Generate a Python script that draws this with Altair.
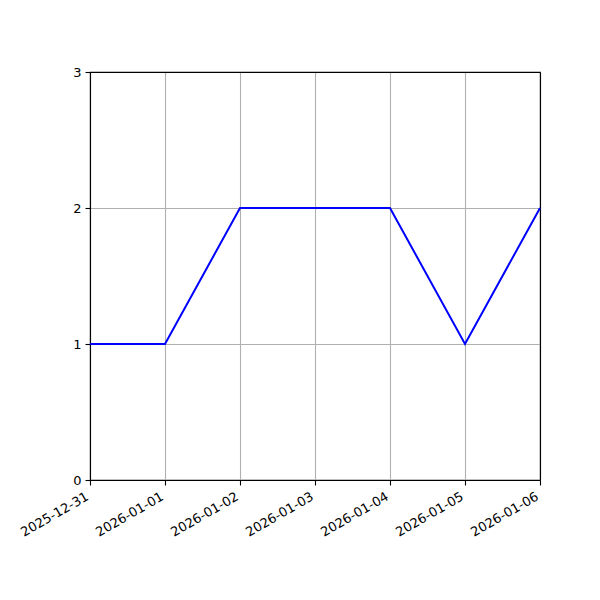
import altair as alt
import pandas as pd

dates = ["2025-12-31", "2026-01-01", "2026-01-02", "2026-01-03",
         "2026-01-04", "2026-01-05", "2026-01-06"]
values = [1, 1, 2, 2, 2, 1, 2]

df = pd.DataFrame({"date": dates, "value": values})

font = "DejaVu Sans"

xscale = alt.Scale(type="point", padding=0)
yscale = alt.Scale(domain=[0, 3], nice=False, zero=True)

line = alt.Chart(df).mark_line(color="#0000ff", strokeWidth=2).encode(
    x=alt.X("date:O", sort=dates, scale=xscale,
            axis=alt.Axis(title=None, labelAngle=330, labelAlign="right",
                          labelBaseline="top", labelFont=font, labelFontSize=13,
                          labelColor="black", tickColor="black", tickSize=5,
                          domainColor="black", labelPadding=5, labelOffset=-6,
                          grid=True, gridColor="#b0b0b0", gridWidth=1.1)),
    y=alt.Y("value:Q", scale=yscale,
            axis=alt.Axis(title=None, values=[0, 1, 2, 3], format="d",
                          labelFont=font, labelFontSize=13, labelColor="black",
                          tickColor="black", tickSize=5, domainColor="black",
                          labelPadding=4, grid=True, gridColor="#b0b0b0",
                          gridWidth=1.1)),
)

frame = alt.Chart(df).mark_point(opacity=0).encode(
    x=alt.X("date:O", sort=dates, scale=xscale,
            axis=alt.Axis(title=None, orient="top", labels=False, ticks=False,
                          grid=False, domainColor="black")),
    y=alt.Y("value:Q", scale=yscale,
            axis=alt.Axis(title=None, orient="right", labels=False, ticks=False,
                          grid=False, domainColor="black")),
)

chart = alt.layer(line, frame).resolve_axis(
    x="independent", y="independent"
).properties(
    width=450, height=408,
    autosize=alt.AutoSizeParams(type="none"),
    padding={"left": 82, "top": 64, "right": 52, "bottom": 112},
).configure_view(
    stroke="black", strokeWidth=1.1
).configure_axis(
    domainWidth=1.1, tickWidth=1.1
)

chart.save("out.html", embed_options={"renderer": "svg", "actions": False})
